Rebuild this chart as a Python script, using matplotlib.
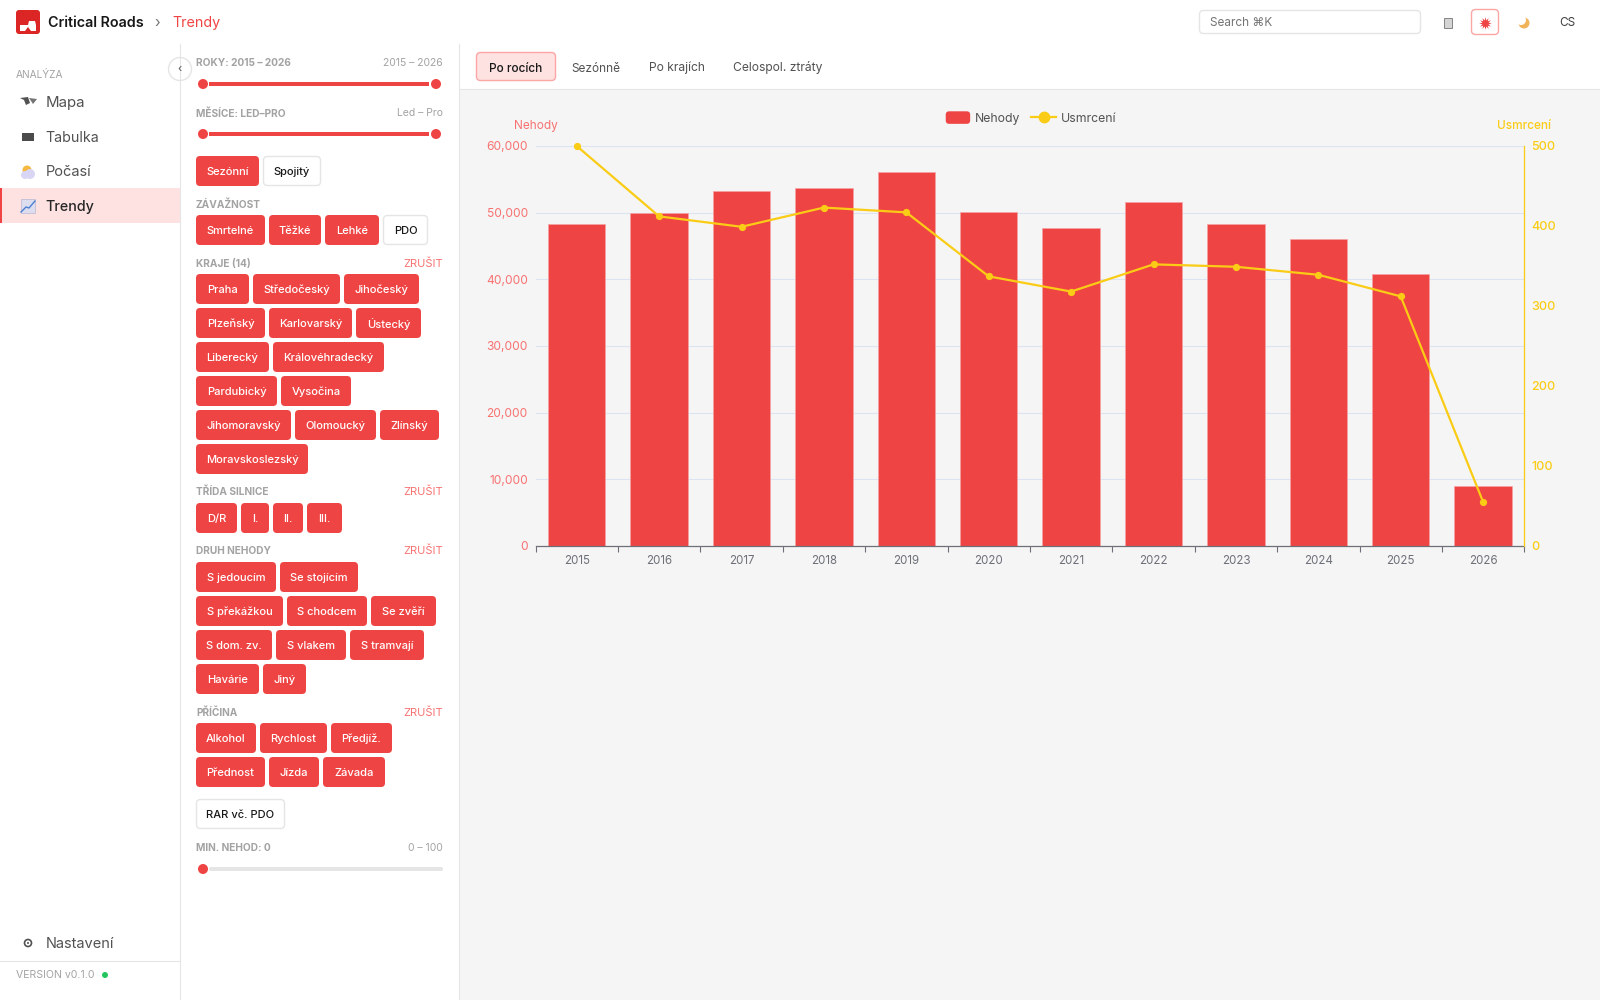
import matplotlib
matplotlib.use("Agg")
import matplotlib.pyplot as plt
from matplotlib.patches import FancyBboxPatch, Circle, Rectangle, Patch, Polygon
from matplotlib.lines import Line2D
from matplotlib.legend_handler import HandlerPatch
from matplotlib.ticker import FuncFormatter

# chart data
years = ["2015", "2016", "2017", "2018", "2019", "2020", "2021", "2022", "2023", "2024", "2025", "2026"]
nehody = [48350, 49900, 53270, 53700, 56100, 50050, 47700, 51580, 48350, 46000, 40870, 9030]
usmrceni = [500, 412, 399, 423, 417, 337, 318, 352, 349, 339, 312, 55]
left_ticks = [0, 10000, 20000, 30000, 40000, 50000, 60000]
right_ticks = [0, 100, 200, 300, 400, 500]

# sidebar texts
severity_labels = ["Smrtelné", "Těžké", "Lehké", "PDO"]
severity_widths = [69, 52, 54, 45]
kraje_rows = [["Praha", "Středočeský", "Jihočeský"], ["Plzeňský", "Karlovarský", "Ústecký"],
              ["Liberecký", "Královéhradecký"], ["Pardubický", "Vysočina"],
              ["Jihomoravský", "Olomoucký", "Zlínský"], ["Moravskoslezský"]]
kraje_widths = [[53, 87, 75], [69, 83, 65], [73, 111], [81, 70], [95, 81, 59], [112]]
road_labels = ["D/R", "I.", "II.", "III."]
road_widths = [41, 28, 30, 35]
druh_rows = [["S jedoucím", "Se stojícím"], ["S překážkou", "S chodcem", "Se zvěří"],
             ["S dom. zv.", "S vlakem", "S tramvají"], ["Havárie", "Jiný"]]
druh_widths = [[80, 78], [87, 80, 65], [76, 70, 74], [63, 43]]
pricina_rows = [["Alkohol", "Rychlost", "Předjíž."], ["Přednost", "Jízda", "Závada"]]
pricina_widths = [[60, 67, 61], [69, 50, 62]]

RED = "#EF4444"
YELLOW = "#FACC15"
BORDER = "#E5E5E5"
GREY = "#A3A3A3"
UI_FONT = ["Inter", "DejaVu Sans"]

plt.rcParams["font.family"] = UI_FONT

fig = plt.figure(figsize=(16, 10), dpi=100, facecolor="white")

# whole page in pixel coordinates
ui = fig.add_axes([0, 0, 1, 1], zorder=-1)
ui.set_xlim(0, 1600)
ui.set_ylim(1000, 0)
ui.axis("off")


def box(x, y, w, h, fc, ec="none", r=4, lw=1):
    ui.add_patch(FancyBboxPatch((x, y), w, h, boxstyle=f"round,pad=0,rounding_size={r}",
                                fc=fc, ec=ec, lw=lw))


def label(x, y, s, size=8.5, color="#404040", ha="left", weight="normal", **kw):
    # +1: inter sits a pixel high compared to the page font
    ui.text(x, y + 1, s, fontsize=size, color=color, ha=ha, va="center", fontweight=weight, **kw)


def chip(x, y, w, s, active=True):
    if active:
        box(x, y, w, 30, RED)
        label(x + w / 2, y + 15, s, 8, "white", "center", "medium")
    else:
        box(x + 0.5, y + 0.5, w - 1, 29, "white", BORDER)
        label(x + w / 2, y + 15, s, 8, "#171717", "center", "medium")


def chip_row(y, labels, widths, inactive=()):
    x = 196
    for s, w in zip(labels, widths):
        chip(x, y, w, s, s not in inactive)
        x += w + 4


def slider(y, right=True):
    if right:
        ui.add_patch(Rectangle((209, y - 2), 220, 4, fc=RED, ec="none"))
        ui.add_patch(Circle((436, y), 5, fc=RED, ec="none"))
    else:
        box(209, y - 2, 234, 4, BORDER, r=2)
    ui.add_patch(Circle((203, y), 5, fc=RED, ec="none"))


def section(y, s, clear=False):
    label(196, y, s, 7.3, GREY, weight="bold")
    if clear:
        label(443, y, "ZRUŠIT", 8, "#F87171", "right")


def rounded_swatch(legend, orig_handle, xdescent, ydescent, width, height, fontsize):
    return FancyBboxPatch((-xdescent, -ydescent), width, height,
                          boxstyle="round,pad=0,rounding_size=2.5")


# page background and separators
ui.add_patch(Rectangle((459.5, 89.5), 1141, 911, fc="#F5F5F5", ec="none"))
ui.plot([460, 1600], [89, 89], color=BORDER, lw=0.8)
ui.plot([180.2, 180.2], [44, 1000], color=BORDER, lw=0.8)
ui.plot([459.2, 459.2], [44, 1000], color=BORDER, lw=0.8)
ui.plot([0, 180], [960.5, 960.5], color=BORDER, lw=0.8)

# header
box(16, 10, 24, 24, "#DC2626", r=3)
ui.add_patch(Rectangle((20, 25), 16, 6, fc="white", ec="none"))
ui.add_patch(Polygon([[28, 25], [29, 21], [35, 21], [36, 25]], fc="white", ec="none"))
ui.add_patch(Polygon([[25, 31], [28, 27], [31, 31]], fc="#DC2626", ec="none"))
label(48, 22, "Critical Roads", 10.3, "#171717", weight="semibold")
label(157, 22, "›", 10.5, "#737373", "center")
label(172.5, 22, "Trendy", 10.3, RED)
box(1199.5, 10.5, 221, 23, "white", BORDER)
label(1210, 21.5, "Search ⌘K", 8.5, "#737373")
ui.add_patch(Rectangle((1444, 18), 8, 10, fc="#D4D4D4", ec="#737373", lw=0.6))
box(1471.5, 9.5, 27, 25, "white", "#FCA5A5")
ui.plot([1485], [22.5], marker=(12, 1, 0), ms=9, color=RED, mew=0)
ui.add_patch(Circle((1524, 23), 5.5, fc="#F0B35A", ec="none"))
ui.add_patch(Circle((1521, 20), 5, fc="white", ec="none"))
label(1567, 22, "CS", 8.5, "#404040", "center")

# nav
label(16, 73.5, "ANALÝZA", 7.3, GREY)
ui.add_patch(Rectangle((0, 188), 180, 35, fc="#FEE2E2", ec="none"))
ui.add_patch(Rectangle((0, 188), 2, 35, fc=RED, ec="none"))
ui.add_patch(Polygon([[20, 98], [28, 97], [30, 103], [26, 105], [24, 100]], fc="#525252", ec="none"))
ui.add_patch(Polygon([[29, 98], [37, 99], [33, 104]], fc="#737373", ec="none"))
ui.add_patch(Rectangle((22, 133), 12, 8, fc="#4B4B4B", ec="none"))
ui.add_patch(Circle((27, 170), 4.5, fc="#F5B942", ec="none"))
ui.add_patch(Circle((30, 174), 5, fc="#D9D6F5", ec="none"))
ui.add_patch(Circle((25, 175), 4, fc="#D9D6F5", ec="none"))
ui.add_patch(Rectangle((21, 199), 14, 14, fc="#DDDDF0", ec="#B8B8D0", lw=0.5))
ui.plot([21, 26, 29, 35], [212, 207, 208, 201], color="#4C7FD0", lw=1)
label(46, 101.5, "Mapa", 10.8, "#525252")
label(45.5, 136.5, "Tabulka", 10.3, "#525252")
label(46, 170.5, "Počasí", 10.5, "#525252")
label(45.5, 205.5, "Trendy", 10.3, "#262626", weight="medium")
label(46, 942.5, "Nastavení", 10.5, "#525252")
ui.add_patch(Circle((28, 943), 3.5, fc="none", ec="#525252", lw=1.2))
ui.add_patch(Circle((28, 943), 1, fc="#525252", ec="none"))
label(16, 974.5, "VERSION v0.1.0", 7.6, GREY)
ui.add_patch(Circle((105, 975), 3, fc="#22C55E", ec="none"))
ui.add_patch(Circle((180, 69), 11.5, fc="white", ec=BORDER, lw=1))
label(180, 68, "‹", 8, "#525252", "center")

# filter panel
section(62.5, "ROKY: 2015 – 2026")
label(443, 62, "2015 – 2026", 7.5, GREY, "right")
slider(84)
section(112.5, "MĚSÍCE: LED–PRO")
label(443, 112, "Led – Pro", 7.5, GREY, "right")
slider(134)
chip_row(156, ["Sezónní", "Spojitý"], [63, 58], inactive=("Spojitý",))
section(203.5, "ZÁVAŽNOST")
chip_row(215, severity_labels, severity_widths, inactive=("PDO",))
section(262.5, "KRAJE (14)", True)
for i, (row, w) in enumerate(zip(kraje_rows, kraje_widths)):
    chip_row(274 + 34 * i, row, w)
section(491, "TŘÍDA SILNICE", True)
chip_row(503, road_labels, road_widths)
section(550, "DRUH NEHODY", True)
for i, (row, w) in enumerate(zip(druh_rows, druh_widths)):
    chip_row(562 + 34 * i, row, w)
section(711.5, "PŘÍČINA", True)
for i, (row, w) in enumerate(zip(pricina_rows, pricina_widths)):
    chip_row(723 + 34 * i, row, w)
chip(196, 799, 89, "RAR vč. PDO", False)
section(847, "MIN. NEHOD: 0")
label(443, 847, "0 – 100", 7.5, GREY, "right")
slider(869, right=False)

# tabs
box(476.5, 52.5, 79, 28, "#FEE2E2", "#FCA5A5")
label(516, 67.5, "Po rocích", 8.5, "#171717", "center", "medium")
label(571.5, 67.5, "Sezónně", 8.5, "#525252")
label(649, 66.5, "Po krajích", 8.7, "#525252")
label(733, 66.5, "Celospol. ztráty", 8.7, "#525252")

# chart
ax = fig.add_axes([535.5 / 1600, 1 - 545.9 / 1000, 988.8 / 1600, 399.9 / 1000])
ax.patch.set_alpha(0)
x = range(len(years))
bars = ax.bar(x, nehody, width=0.695, color=RED, edgecolor="#F6A3A3", linewidth=0.5,
              zorder=2, label="Nehody")
ax.set_xlim(-0.5, len(years) - 0.5)
ax.set_ylim(0, 60000)
ax.set_yticks(left_ticks)
ax.yaxis.set_major_formatter(FuncFormatter(lambda v, _: f"{int(v):,}"))
ax.grid(axis="y", color="#DCE3F3", lw=0.75, zorder=0)
ax.set_xticks(list(x))
ax.set_xticklabels(years)
ax.set_xticks([i - 0.5 for i in range(len(years) + 1)], minor=True)
ax.tick_params(axis="x", which="major", length=0, pad=6.5, labelsize=8.3, labelcolor="#6E7079")
ax.tick_params(axis="x", which="minor", length=4, width=0.8, color="#6E7079")
ax.tick_params(axis="y", length=0, pad=5.5, labelsize=8.6, labelcolor="#F87171")
for s in ["top", "left", "right"]:
    ax.spines[s].set_visible(False)
ax.spines["bottom"].set_color("#6E7079")
ax.spines["bottom"].set_linewidth(0.9)

ax2 = ax.twinx()
ax2.patch.set_alpha(0)
line, = ax2.plot(x, usmrceni, color=YELLOW, lw=1.6, marker="o", ms=4.2, clip_on=False,
                 zorder=5, label="Usmrcení")
ax2.set_ylim(0, 500)
ax2.set_yticks(right_ticks)
ax2.tick_params(axis="y", length=0, pad=5, labelsize=9, labelcolor=YELLOW)
for label_ in ax2.get_yticklabels():
    label_.set_fontweight("medium")
for s in ["top", "left", "bottom"]:
    ax2.spines[s].set_visible(False)
ax2.spines["right"].set_color(YELLOW)
ax2.spines["right"].set_linewidth(0.9)

label(536, 125, "Nehody", 8.5, "#F87171", "center")
label(1524, 125, "Usmrcení", 8.5, YELLOW, "center", "medium")

handles = [Patch(fc=RED, ec="none"), Line2D([], [], color=YELLOW, lw=1.6, marker="o", ms=7.5)]
fig.legend(handles, ["Nehody", "Usmrcení"], loc="center", bbox_to_anchor=(1031 / 1600, 1 - 118 / 1000),
           ncol=2, frameon=False, fontsize=8.8, labelcolor="#525252", handlelength=2.0, handleheight=1.2,
           handletextpad=0.4, columnspacing=0.9,
           handler_map={Patch: HandlerPatch(patch_func=rounded_swatch)})

fig.savefig("out.png", dpi=100)
